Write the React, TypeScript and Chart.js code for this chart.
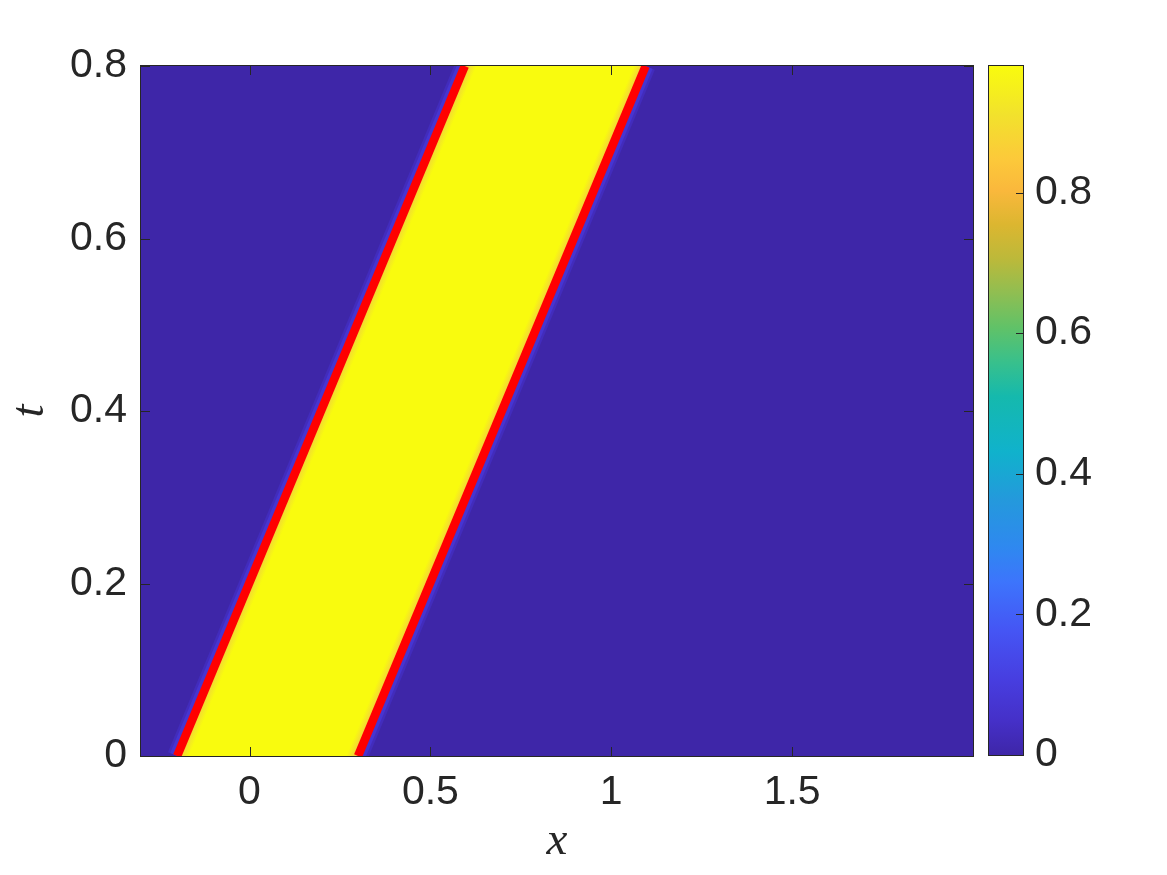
import React, { useEffect, useRef } from 'react';
import { Chart, registerables } from 'chart.js';

Chart.register(...registerables);

// ---- data ----
const X_MIN = -0.3;
const X_MAX = 2.0;
const T_MIN = 0;
const T_MAX = 0.8;
const X_TICKS = [0, 0.5, 1, 1.5];
const T_TICKS = [0, 0.2, 0.4, 0.6, 0.8];
const CB_MIN = 0;
const CB_MAX = 0.98;
const CB_TICKS = [0, 0.2, 0.4, 0.6, 0.8];
const FRONT_T = [0, 0.8];
const LEFT_FRONT_X = [-0.2, 0.595];
const RIGHT_FRONT_X = [0.3, 1.095];
const BAND_VALUE = 0.98;
const BACKGROUND_VALUE = 0;

// parula-like colormap stops (fraction of colour range, colour)
const PARULA: [number, string][] = [
  [0.0, '#3e26a8'],
  [0.05, '#4530c8'],
  [0.11, '#473ee0'],
  [0.18, '#4555f4'],
  [0.25, '#3d74fc'],
  [0.3, '#2f88f0'],
  [0.37, '#2499dc'],
  [0.44, '#10b2cc'],
  [0.52, '#15b9ad'],
  [0.57, '#38c08c'],
  [0.62, '#60c268'],
  [0.67, '#8fbe52'],
  [0.72, '#bcb93a'],
  [0.77, '#dcb630'],
  [0.82, '#fab83c'],
  [0.865, '#fcc93a'],
  [0.93, '#f2e22c'],
  [1.0, '#f9fb0e'],
];

const INK = '#262626';
const TICK_FONT = { family: "'Liberation Sans', Arial, sans-serif", size: 41 };
const TITLE_FONT = { family: "'Liberation Serif', 'Times New Roman', serif", size: 47, style: 'italic' as const };

function hexToRgb(h: string) {
  const n = parseInt(h.slice(1), 16);
  return [(n >> 16) & 255, (n >> 8) & 255, n & 255];
}
function parula(value: number) {
  const f = Math.max(0, Math.min(1, (value - CB_MIN) / (CB_MAX - CB_MIN)));
  for (let i = 1; i < PARULA.length; i++) {
    const [f1, c1] = PARULA[i];
    const [f0, c0] = PARULA[i - 1];
    if (f <= f1) {
      const k = (f - f0) / (f1 - f0);
      const a = hexToRgb(c0);
      const b = hexToRgb(c1);
      const m = a.map((v, j) => Math.round(v + (b[j] - v) * k));
      return `rgb(${m[0]},${m[1]},${m[2]})`;
    }
  }
  return PARULA[PARULA.length - 1][1];
}

const framePlugin = (tickLen: number, sides: { x: boolean; y: boolean; right: boolean }) => ({
  id: 'frameTicks',
  beforeDatasetsDraw(chart: any) {
    if (!sides.x) return;
    const { ctx, chartArea: a } = chart;
    ctx.save();
    ctx.fillStyle = parula(BACKGROUND_VALUE);
    ctx.fillRect(a.left, a.top, a.right - a.left, a.bottom - a.top);
    ctx.restore();
  },
  afterDraw(chart: any) {
    const { ctx, chartArea: a, scales } = chart;
    ctx.save();
    ctx.strokeStyle = INK;
    ctx.lineWidth = 1;
    ctx.strokeRect(a.left - 0.5, a.top - 0.5, a.right - a.left + 1, a.bottom - a.top + 1);
    ctx.beginPath();
    if (sides.x) {
      for (const t of scales.x.ticks) {
        const px = Math.round(scales.x.getPixelForValue(t.value)) + 0.5;
        ctx.moveTo(px, a.bottom);
        ctx.lineTo(px, a.bottom - tickLen);
        ctx.moveTo(px, a.top);
        ctx.lineTo(px, a.top + tickLen);
      }
    }
    for (const t of scales.y.ticks) {
      const py = Math.round(scales.y.getPixelForValue(t.value)) + 0.5;
      if (sides.y) {
        ctx.moveTo(a.left, py);
        ctx.lineTo(a.left + tickLen, py);
      }
      if (sides.right) {
        ctx.moveTo(a.right, py);
        ctx.lineTo(a.right - tickLen, py);
      }
    }
    ctx.stroke();
    ctx.restore();
  },
});

function bandGradient(c: any) {
  const chart = c.chart;
  const xs = chart.scales?.x;
  const ys = chart.scales?.y;
  if (!xs || !ys || !chart.chartArea) return parula(BAND_VALUE);
  const ax = xs.getPixelForValue(LEFT_FRONT_X[0]);
  const ay = ys.getPixelForValue(FRONT_T[0]);
  const bx = xs.getPixelForValue(LEFT_FRONT_X[1]);
  const by = ys.getPixelForValue(FRONT_T[1]);
  const dx = bx - ax;
  const dy = by - ay;
  const len = Math.hypot(dx, dy) || 1;
  const nx = -dy / len;
  const ny = dx / len;
  const rx = xs.getPixelForValue(RIGHT_FRONT_X[0]);
  const ry = ys.getPixelForValue(FRONT_T[0]);
  const w = (rx - ax) * nx + (ry - ay) * ny;
  const g = chart.ctx.createLinearGradient(ax, ay, ax + nx * w, ay + ny * w);
  const e = Math.min(0.2, 11 / w);
  g.addColorStop(0, parula(BAND_VALUE * 0.83));
  g.addColorStop(e * 0.5, parula(BAND_VALUE * 0.93));
  g.addColorStop(e, parula(BAND_VALUE));
  g.addColorStop(1 - e, parula(BAND_VALUE));
  g.addColorStop(1 - e * 0.5, parula(BAND_VALUE * 0.92));
  g.addColorStop(1, parula(BAND_VALUE * 0.82));
  return g;
}

function MainChart() {
  const ref = useRef<HTMLCanvasElement>(null);
  useEffect(() => {
    if (!ref.current) return;
    const leftFront = LEFT_FRONT_X.map((x, i) => ({ x, y: FRONT_T[i] }));
    const rightFront = RIGHT_FRONT_X.map((x, i) => ({ x, y: FRONT_T[i] }));
    const band = [
      { x: LEFT_FRONT_X[0], y: FRONT_T[0] },
      { x: LEFT_FRONT_X[1], y: FRONT_T[1] },
      { x: RIGHT_FRONT_X[1], y: FRONT_T[1] },
      { x: RIGHT_FRONT_X[0], y: FRONT_T[0] },
    ];
    const line = (data: any[], color: string, width: number, order: number) => ({
      data,
      showLine: true,
      borderColor: color,
      borderWidth: width,
      pointRadius: 0,
      fill: false,
      clip: 0,
      order,
    });
    const chart = new Chart(ref.current, {
      type: 'scatter',
      data: {
        datasets: [
          line(leftFront, '#ff0000', 8.5, 0),
          line(rightFront, '#ff0000', 8.5, 0),
          {
            data: band,
            showLine: true,
            borderWidth: 0,
            borderColor: 'rgba(0,0,0,0)',
            backgroundColor: bandGradient,
            fill: 'shape',
            pointRadius: 0,
            clip: 0,
            order: 1,
          } as any,
          line(leftFront, parula(0.07), 15, 2),
          line(rightFront, parula(0.07), 15, 2),
          line(leftFront, parula(0.03), 20, 3),
          line(rightFront, parula(0.03), 20, 3),
        ],
      },
      options: {
        animation: false,
        responsive: false,
        events: [],
        layout: { padding: { left: 0, top: 66, right: 194, bottom: 0 }, autoPadding: false } as any,
        plugins: { legend: { display: false }, tooltip: { enabled: false } },
        scales: {
          x: {
            type: 'linear',
            min: X_MIN,
            max: X_MAX,
            afterBuildTicks: (s: any) => {
              s.ticks = X_TICKS.map((value) => ({ value }));
            },
            afterFit: (s: any) => {
              s.height = 119;
            },
            grid: { display: false, drawTicks: false },
            border: { display: false },
            ticks: {
              padding: 12,
              font: TICK_FONT,
              color: INK,
              autoSkip: false,
              maxRotation: 0,
              callback: (v: any) => String(v),
            },
            title: { display: true, text: 'x', font: TITLE_FONT, color: INK, padding: { top: 0, bottom: 5 } },
          },
          y: {
            type: 'linear',
            min: T_MIN,
            max: T_MAX,
            afterBuildTicks: (s: any) => {
              s.ticks = T_TICKS.map((value) => ({ value }));
            },
            afterFit: (s: any) => {
              s.width = 141;
            },
            grid: { display: false, drawTicks: false },
            border: { display: false },
            ticks: {
              padding: 14,
              font: TICK_FONT,
              color: INK,
              autoSkip: false,
              callback: (v: any) => String(v),
            },
            title: { display: true, text: 't', font: TITLE_FONT, color: INK, padding: { top: 2, bottom: 0 } },
          },
        },
      } as any,
      plugins: [framePlugin(9, { x: true, y: true, right: true })],
    });
    return () => chart.destroy();
  }, []);
  return (
    <canvas
      ref={ref}
      width={1167}
      height={875}
      style={{ position: 'absolute', left: 0, top: 0, width: 1167, height: 875 }}
    />
  );
}

function ColorBar() {
  const ref = useRef<HTMLCanvasElement>(null);
  useEffect(() => {
    if (!ref.current) return;
    const chart = new Chart(ref.current, {
      type: 'bar',
      data: {
        labels: ['colorbar'],
        datasets: [
          {
            data: [[CB_MIN, CB_MAX]] as any,
            borderWidth: 0,
            barPercentage: 1,
            categoryPercentage: 1,
            backgroundColor: (c: any) => {
              const ch = c.chart;
              const ys = ch.scales?.y;
              if (!ys || !ch.chartArea) return parula(CB_MIN);
              const g = ch.ctx.createLinearGradient(0, ys.getPixelForValue(CB_MIN), 0, ys.getPixelForValue(CB_MAX));
              for (const [f, col] of PARULA) g.addColorStop(f, col);
              return g;
            },
          },
        ],
      },
      options: {
        animation: false,
        responsive: false,
        events: [],
        layout: { padding: { left: 29, top: 66, right: 0, bottom: 120 }, autoPadding: false } as any,
        plugins: { legend: { display: false }, tooltip: { enabled: false } },
        scales: {
          x: { display: false },
          y: {
            position: 'right',
            min: CB_MIN,
            max: CB_MAX,
            afterBuildTicks: (s: any) => {
              s.ticks = CB_TICKS.map((value) => ({ value }));
            },
            afterFit: (s: any) => {
              s.width = 144;
            },
            grid: { display: false, drawTicks: false },
            border: { display: false },
            ticks: {
              padding: 12,
              font: TICK_FONT,
              color: INK,
              autoSkip: false,
              callback: (v: any) => String(v),
            },
          },
        },
      } as any,
      plugins: [framePlugin(7, { x: false, y: false, right: true })],
    });
    return () => chart.destroy();
  }, []);
  return (
    <canvas
      ref={ref}
      width={207}
      height={875}
      style={{ position: 'absolute', left: 960, top: 0, width: 207, height: 875 }}
    />
  );
}

export default function App() {
  return (
    <div style={{ position: 'absolute', left: 0, top: 0, width: 1167, height: 875, background: '#ffffff' }}>
      <MainChart />
      <ColorBar />
    </div>
  );
}
